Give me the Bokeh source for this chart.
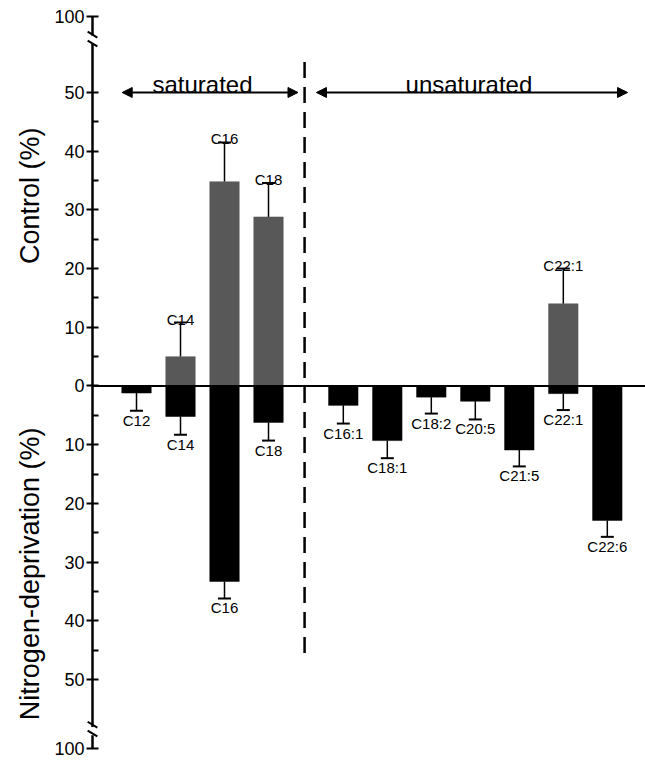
import math
from bokeh.plotting import figure
from bokeh.models import (ColumnDataSource, LinearAxis, FixedTicker, CustomJSTickFormatter,
                          Whisker, TeeHead, Arrow, NormalHead, Label, Range1d)
from bokeh.core.properties import value
from bokeh.embed import file_html
from bokeh.resources import INLINE

# ---- data ----
categories = ["C12", "C14", "C16", "C18", "C16:1", "C18:1", "C18:2", "C20:5", "C21:5", "C22:1", "C22:6"]
groups = ["saturated"] * 4 + ["unsaturated"] * 7
control = [0, 5.0, 34.8, 28.8, 0, 0, 0, 0, 0, 14.0, 0]
control_err = [0, 5.8, 6.7, 5.8, 0, 0, 0, 0, 0, 6.0, 0]
nitrogen = [1.2, 5.2, 33.3, 6.2, 3.3, 9.3, 1.9, 2.6, 10.9, 1.3, 22.9]
nitrogen_err = [3.0, 3.1, 2.9, 3.1, 3.1, 3.0, 2.8, 3.1, 2.8, 2.8, 2.8]
major_ticks = [-50, -40, -30, -20, -10, 0, 10, 20, 30, 40, 50]
minor_ticks = [-45, -35, -25, -15, -5, 5, 15, 25, 35, 45]
break_ticks = [-61.8, 63.0]   # the "100" ticks beyond the axis break

FONT = "Liberation Sans"
GRAY = "#585858"

pos = [i + 1 + (0.7 if g == "unsaturated" else 0) for i, g in enumerate(groups)]
divider = (pos[3] + pos[4]) / 2 - 0.03

src = ColumnDataSource(dict(
    x=pos, cat=categories,
    c=control, c_top=[v + e for v, e in zip(control, control_err)],
    n=[-v for v in nitrogen], n_bot=[-(v + e) for v, e in zip(nitrogen, nitrogen_err)],
))
ci = [i for i, v in enumerate(control) if v > 0]
src_c = ColumnDataSource(dict(x=[pos[i] for i in ci], cat=[categories[i] for i in ci],
                              c=[control[i] for i in ci],
                              c_top=[control[i] + control_err[i] for i in ci]))

X0, X1 = -2.0909, 12.568
p = figure(width=645, height=760, output_backend="svg", toolbar_location=None,
           x_range=Range1d(X0, X1), y_range=Range1d(-63.8, 65.67),
           x_axis_location=None, y_axis_location=None,
           min_border_left=0, min_border_right=0, min_border_top=0, min_border_bottom=0)
p.grid.visible = False
p.outline_line_color = None
p.background_fill_color = "white"

yaxis = LinearAxis(fixed_location=0,
                   ticker=FixedTicker(ticks=[break_ticks[0]] + major_ticks + [break_ticks[1]],
                                      minor_ticks=minor_ticks),
                   formatter=CustomJSTickFormatter(code="return (tick > 55 || tick < -55) ? '100' : Math.abs(Math.round(tick)).toString();"),
                   bounds=(break_ticks[0], break_ticks[1]),
                   axis_line_width=2.5, axis_line_color="black",
                   major_tick_in=6, major_tick_out=6, major_tick_line_width=2,
                   minor_tick_in=6, minor_tick_out=0, minor_tick_line_width=2,
                   major_label_standoff=2,
                   major_label_text_font=FONT, major_label_text_font_size="18px",
                   major_label_text_color="black")
p.add_layout(yaxis, "left")

# bars
p.vbar(x="x", top="c", bottom=0, width=0.67, source=src, fill_color=GRAY, line_color=GRAY, line_width=0.5)
p.vbar(x="x", top=0, bottom="n", width=0.67, source=src, fill_color="black", line_color="black", line_width=0.5)

# error bars
p.add_layout(Whisker(base="x", lower="c", upper="c_top", source=src_c, dimension="height",
                     line_width=1.5, line_color="black",
                     upper_head=TeeHead(size=13, line_width=2, line_color="black"), lower_head=None))
p.add_layout(Whisker(base="x", lower="n_bot", upper="n", source=src, dimension="height",
                     line_width=1.5, line_color="black",
                     lower_head=TeeHead(size=13, line_width=2, line_color="black"), upper_head=None))

# zero line
p.segment(x0=[0], y0=[0], x1=[X1], y1=[0], line_color="black", line_width=2)

# bar labels
p.text(x="x", y="c_top", text="cat", source=src_c, text_font=value(FONT), text_font_size="15px",
       text_align="center", text_baseline="alphabetic", y_offset=-3.5, text_color="black")
p.text(x="x", y="n_bot", text="cat", source=src, text_font=value(FONT), text_font_size="15px",
       text_align="center", text_baseline="top", y_offset=1, text_color="black")

# divider
p.segment(x0=[divider], y0=[55.2], x1=[divider], y1=[-45.5], line_color="black",
          line_width=2.5, line_dash="16 9")

# group arrows and titles
sat_pos = [x for x, g in zip(pos, groups) if g == "saturated"]
for x0, x1, xc, name in [(pos[0] - 0.325, divider - 0.15, sum(sat_pos) / len(sat_pos), "saturated"),
                         (divider + 0.27, pos[-1] + 0.46, None, "unsaturated")]:
    if xc is None:
        xc = (x0 + x1) / 2 - 0.07
    p.add_layout(Arrow(x_start=x0, y_start=50, x_end=x1, y_end=50, line_width=2, line_color="black",
                       start=NormalHead(size=10, fill_color="black", line_color="black"),
                       end=NormalHead(size=10, fill_color="black", line_color="black")))
    p.add_layout(Label(x=xc, y=51.3, text=name, text_align="center",
                       text_baseline="alphabetic", text_font=FONT, text_font_size="24px",
                       text_color="black"))

# axis break marks
for lo, hi in [(58.3, 59.7), (-59.5, -58.1)]:
    p.quad(left=[-0.12], right=[0.12], bottom=[lo], top=[hi], fill_color="white",
           line_color=None, level="overlay")
p.segment(x0=[-0.11, -0.11, -0.11, -0.11], y0=[60.35, 58.85, -57.2, -58.7],
          x1=[0.11, 0.11, 0.11, 0.11], y1=[59.35, 57.85, -58.2, -59.7],
          line_color="black", line_width=2, level="overlay")

# axis titles
p.add_layout(Label(x=-1.43, y=32.4, text="Control (%)", angle=math.pi / 2, text_align="center",
                   text_baseline="middle", text_font=FONT, text_font_size="27px", text_color="black"))
p.add_layout(Label(x=-1.43, y=-32.0, text="Nitrogen-deprivation (%)", angle=math.pi / 2,
                   text_align="center", text_baseline="middle", text_font=FONT,
                   text_font_size="27px", text_color="black"))

open("out.html", "w").write(file_html(p, INLINE))
